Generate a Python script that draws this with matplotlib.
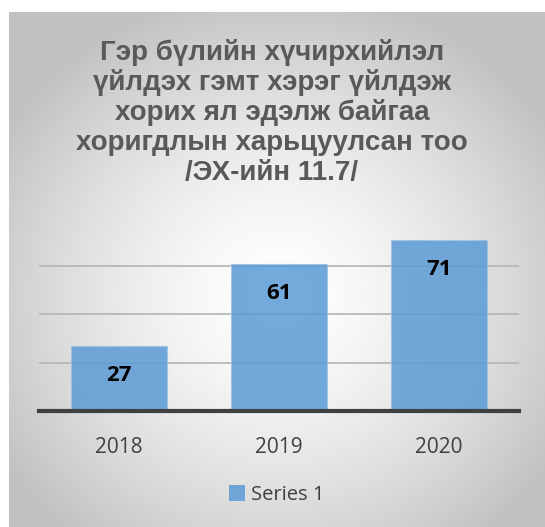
import numpy as np
import matplotlib.pyplot as plt
from matplotlib.patches import Patch

years = ['2018', '2019', '2020']
counts = [27, 61, 71]
series_name = 'Series 1'
title_lines = ['Гэр бүлийн хүчирхийлэл',
               'үйлдэх гэмт хэрэг үйлдэж',
               'хорих ял эдэлж байгаа',
               'хоригдлын харьцуулсан тоо',
               '/ЭХ-ийн 11.7/']

W, H = 545, 527
fig = plt.figure(figsize=(W / 100, H / 100), dpi=100)
fig.patch.set_facecolor('white')

# background panel with radial gradient (white centre, grey edges)
bg = fig.add_axes([9 / W, 0, 1 - 9 / W, 1 - 12 / H])
bg.set_axis_off()
ny, nx = 260, 270
yy, xx = np.mgrid[0:ny, 0:nx]
d = np.sqrt(((xx - nx * 0.5) / (nx * 0.6)) ** 2 + ((yy - ny * 0.55) / (ny * 0.6)) ** 2)
d = np.clip(d, 0, 1)
shade = 1.0 - 0.24 * d ** 1.5
img = np.dstack([shade, shade, shade])
bg.imshow(img, aspect='auto', extent=[0, 1, 0, 1], interpolation='bilinear')
bg.set_xlim(0, 1)
bg.set_ylim(0, 1)

# chart axes
ax_l, ax_r = 39, 519
ax_b, ax_t = 411, 224
ax = fig.add_axes([ax_l / W, 1 - ax_b / H, (ax_r - ax_l) / W, (ax_b - ax_t) / H])
ax.patch.set_alpha(0)
x = np.arange(len(years))
bars = ax.bar(x, counts, width=0.6, color='#5b9bd5', alpha=0.85,
              edgecolor='#9dc3e6', linewidth=0.8, zorder=3)
ax.set_xlim(-0.5, 2.5)
ax.set_ylim(0, 77.5)
ax.set_yticks([20, 40, 60])
ax.yaxis.grid(True, color='#b4b4b4', linewidth=1.2, zorder=0)
ax.tick_params(axis='y', left=False, labelleft=False)
ax.tick_params(axis='x', length=0, pad=19, labelsize=15, labelcolor='#404040')
ax.set_xticks(x)
ax.set_xticklabels(years, fontfamily='Open Sans')
for s in ['top', 'right', 'left']:
    ax.spines[s].set_visible(False)
ax.spines['bottom'].set_color('#404040')
ax.spines['bottom'].set_linewidth(3)
ax.spines['bottom'].set_zorder(4)

for xi, v in zip(x, counts):
    ax.annotate(str(v), (xi, v), xytext=(0, -21.5), textcoords='offset points',
                ha='center', va='center', fontsize=16, fontweight='bold',
                fontfamily='Open Sans', color='black', zorder=5)

# title
for i, line in enumerate(title_lines):
    fig.text(272 / W, 1 - (52 + i * 30.2) / H, line, ha='center', va='center',
             fontsize=20, fontweight='bold', color='#595959',
             family=['Liberation Sans', 'DejaVu Sans'])

# legend
fig.legend(handles=[Patch(facecolor='#5b9bd5', alpha=0.85)], labels=[series_name],
           loc='center', bbox_to_anchor=(277 / W, 1 - 495 / H), frameon=False,
           handlelength=0.8, handleheight=0.8, handletextpad=0.3,
           prop={'family': 'Open Sans', 'size': 14.5}, labelcolor='#404040')

fig.savefig('out.png', dpi=100)
